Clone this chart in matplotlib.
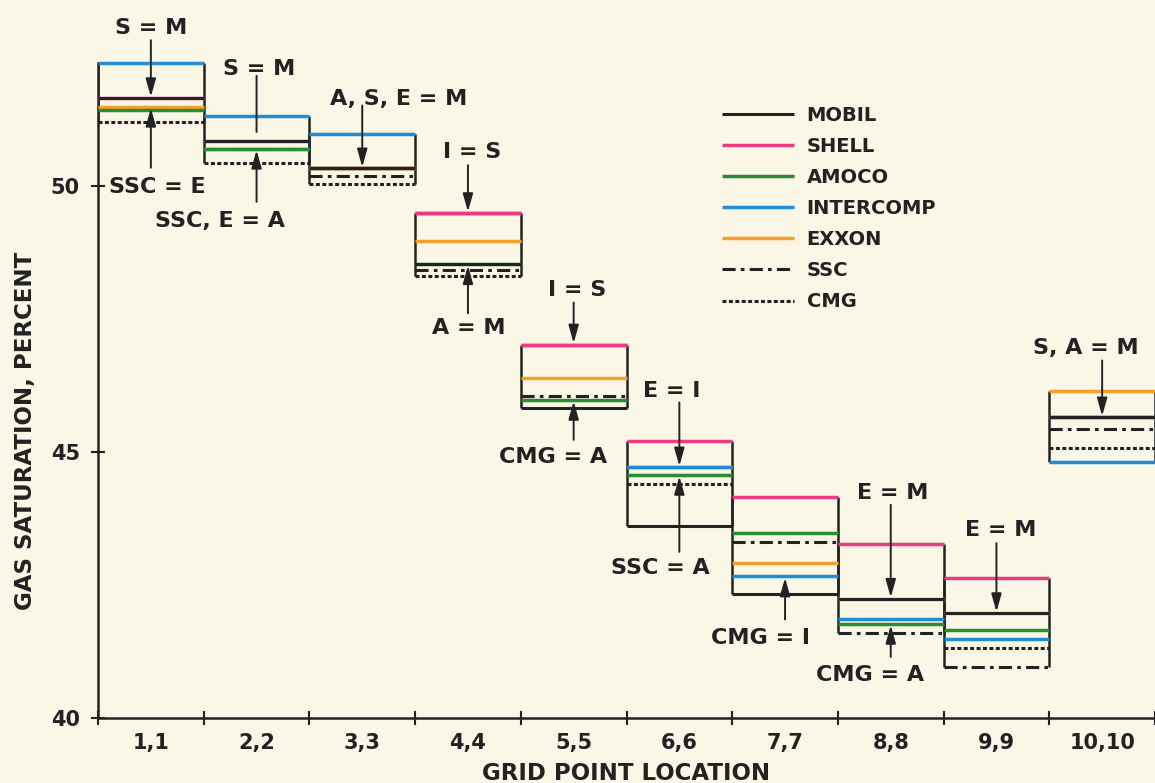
import numpy as np
import matplotlib
matplotlib.use("Agg")
import matplotlib.pyplot as plt
from matplotlib.lines import Line2D

# ---------------- data ----------------
categories = ["1,1", "2,2", "3,3", "4,4", "5,5", "6,6", "7,7", "8,8", "9,9", "10,10"]
mobil     = [51.65, 50.85, 50.33, 48.53, 45.82, 43.60, 42.34, 42.24, 41.97, 45.65]
shell     = [51.65, 50.85, 50.33, 49.49, 47.02, 45.21, 44.16, 43.27, 42.63, 45.65]
amoco     = [51.42, 50.70, 50.33, 48.53, 45.98, 44.57, 43.47, 41.77, 41.65, 45.65]
intercomp = [52.32, 51.32, 50.98, 49.49, 47.02, 44.71, 42.66, 41.87, 41.48, 44.81]
exxon     = [51.49, 50.70, 50.33, 48.97, 46.40, 44.71, 42.92, 42.24, 41.97, 46.15]
ssc       = [51.49, 50.70, 50.18, 48.43, 46.06, 44.57, 43.31, 41.59, 40.95, 45.43]
cmg       = [51.21, 50.43, 50.03, 48.30, 45.98, 44.40, 42.66, 41.77, 41.31, 45.08]
yticks = [40, 45, 50]

series = {
    "MOBIL": mobil, "SHELL": shell, "AMOCO": amoco, "INTERCOMP": intercomp,
    "EXXON": exxon, "SSC": ssc, "CMG": cmg,
}

# ---------------- styles ----------------
INK = "#222222"
BG = "#FBF7E6"
styles = {
    "MOBIL":     dict(color=INK, lw=2.2, ls="-", z=9),
    "SHELL":     dict(color="#EB3C82", lw=2.5, ls="-", z=7),
    "AMOCO":     dict(color="#2A8C33", lw=2.5, ls="-", z=8),
    "INTERCOMP": dict(color="#1E8CD7", lw=2.5, ls="-", z=6),
    "EXXON":     dict(color="#F5A02D", lw=2.5, ls="-", z=5),
    "SSC":       dict(color=INK, lw=2.2, ls=(0, (4.3, 1.7, 1.2, 1.7)), z=4),
    "CMG":       dict(color=INK, lw=2.2, ls=(0, (1.3, 0.8)), z=3),
}

plt.rcParams["font.family"] = ["DejaVu Sans"]
plt.rcParams["font.weight"] = "bold"

fig = plt.figure(figsize=(11.55, 7.83), dpi=100, facecolor=BG)
ax = fig.add_axes([98 / 1155, 65 / 783, 1057 / 1155, 713 / 783])
ax.set_facecolor(BG)

n = len(categories)
left = np.arange(n)
right = left + 1

for name, vals in series.items():
    st = styles[name]
    ax.hlines(vals, left, right, colors=st["color"], linewidths=st["lw"],
              linestyles=[st["ls"]], zorder=st["z"], capstyle="butt")

# vertical box edges for each grid point
allv = np.array([series[k] for k in series])
lo = allv.min(axis=0)
hi = allv.max(axis=0)
for i in range(n):
    ax.vlines([left[i], right[i]], lo[i], hi[i], colors=INK, linewidth=1.8, zorder=2)

ax.set_xlim(0, n)
ax.set_ylim(40, 40 + 713 / 53.2)

for s in ["top", "right"]:
    ax.spines[s].set_visible(False)
ax.spines["left"].set_bounds(40, hi[0])
ax.spines["left"].set_linewidth(1.8)
ax.spines["bottom"].set_linewidth(1.8)
ax.spines["left"].set_color(INK)
ax.spines["bottom"].set_color(INK)

ax.set_xticks(np.arange(n + 1))
ax.set_xticklabels([])
ax.set_xticks(left + 0.5, minor=True)
ax.set_xticklabels(categories, minor=True, fontsize=15, fontweight="bold", color=INK)
ax.tick_params(axis="x", which="major", direction="inout", length=10, width=1.5, color=INK)
ax.tick_params(axis="x", which="minor", length=0, pad=11)
ax.set_yticks(yticks)
ax.set_yticklabels([str(v) for v in yticks], fontsize=15, fontweight="bold", color=INK)
ax.tick_params(axis="y", direction="inout", length=10, width=1.5, color=INK, pad=8)

ax.set_xlabel("GRID POINT LOCATION", fontsize=16.5, fontweight="bold", color=INK, labelpad=6)
ax.set_ylabel("GAS SATURATION, PERCENT", fontsize=16.5, fontweight="bold", color=INK)
ax.yaxis.set_label_coords(-0.058, 0.4025)

# ---------------- legend ----------------
handles = [Line2D([], [], color=styles[k]["color"], lw=styles[k]["lw"],
                  ls=styles[k]["ls"], solid_capstyle="butt", dash_capstyle="butt")
           for k in series]
leg = fig.legend(handles, list(series.keys()), loc="upper left",
                 bbox_to_anchor=(722 / 1155, 1 - 106 / 783), frameon=False,
                 fontsize=14, handlelength=3.7, handletextpad=0.65,
                 labelspacing=0.62, borderpad=0, borderaxespad=0)
for t in leg.get_texts():
    t.set_fontweight("bold")
    t.set_color(INK)

# ---------------- annotations ----------------
# (bin index, series, label, text dx, text dy, arrow start dy, tip gap, arrowhead)
notes = [
    (0, "MOBIL", "S = M", 0, 72, 58, 1, True),
    (0, "EXXON", "SSC = E", 6, -78, -61, 1, True),
    (1, "MOBIL", "S = M", 3, 74, 65, 6.3, False),
    (1, "AMOCO", "SSC, E = A", -37, -70, -53, 1, True),
    (2, "MOBIL", "A, S, E = M", 36, 71, 63, 1, True),
    (3, "SHELL", "I = S", 4, 63, 48, 1, True),
    (3, "MOBIL", "A = M", 1, -62, -49, 1, True),
    (4, "SHELL", "I = S", 3, 57, 42, 1, True),
    (4, "AMOCO", "CMG = A", -21, -55, -40, 1, True),
    (5, "INTERCOMP", "E = I", -8, 78, 65, 1, True),
    (5, "AMOCO", "SSC = A", -19, -91, -77, 1, True),
    (6, "INTERCOMP", "CMG = I", -25, -60, -43, 1, True),
    (7, "MOBIL", "E = M", 2, 108, 94, 1, True),
    (7, "AMOCO", "CMG = A", -21, -49, -33, 1, True),
    (8, "MOBIL", "E = M", 4, 85, 70, 1, True),
    (9, "MOBIL", "S, A = M", -16, 71, 57, 1, True),
]
for b, sname, label, tdx, tdy, ady, gap, head in notes:
    xy = (b + 0.5, series[sname][b])
    ax.annotate(label, xy=xy, xycoords="data", xytext=(tdx, tdy),
                textcoords="offset pixels", ha="center", va="center_baseline",
                fontsize=16, fontweight="bold", color=INK, zorder=12)
    style = "-|>,head_length=0.6,head_width=0.17" if head else "-"
    ax.annotate("", xy=xy, xycoords="data", xytext=(0, ady),
                textcoords="offset pixels",
                arrowprops=dict(arrowstyle=style, mutation_scale=18, lw=1.4,
                                color=INK, shrinkA=0, shrinkB=gap),
                zorder=11)

fig.savefig("out.png", dpi=100, facecolor=BG)
